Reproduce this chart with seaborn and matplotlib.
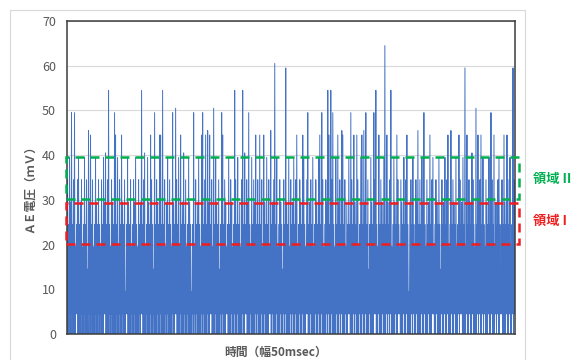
import numpy as np
import pandas as pd
import matplotlib
matplotlib.use("Agg")
import matplotlib.pyplot as plt
import matplotlib.transforms as mtransforms
from matplotlib.patches import Rectangle
import seaborn as sns

# Peak AE voltage (mV) in each 50 ms window
peak_mv = [
    34.5, 24.5, 39.5, 29.5, 49.5, 24.5, 34.5, 49.5, 19.5, 24.5, 34.5, 39.5, 24.5, 29.5, 34.5, 19.5,
    24.5, 39.5, 24.5, 34.5, 14.5, 45.5, 29.5, 44.5, 24.5, 34.5, 19.5, 24.5, 39.5, 29.5, 24.5, 34.5,
    24.5, 19.5, 34.5, 24.5, 39.5, 29.5, 40.5, 24.5, 34.5, 54.5, 24.5, 19.5, 34.5, 29.5, 24.5, 49.5,
    44.5, 24.5, 39.5, 19.5, 34.5, 24.5, 44.5, 29.5, 24.5, 34.5, 9.5, 24.5, 39.5, 29.5, 24.5, 34.5,
    19.5, 24.5, 34.5, 29.5, 39.5, 24.5, 19.5, 34.5, 24.5, 29.5, 54.5, 24.5, 34.5, 40.5, 19.5, 24.5,
    39.5, 29.5, 24.5, 44.5, 34.5, 24.5, 14.5, 49.5, 24.5, 34.5, 29.5, 24.5, 44.5, 44.5, 24.5, 54.5,
    24.5, 34.5, 19.5, 29.5, 39.5, 24.5, 34.5, 24.5, 19.5, 49.5, 29.5, 24.5, 50.5, 34.5, 24.5, 39.5,
    19.5, 44.5, 24.5, 29.5, 40.5, 24.5, 34.5, 19.5, 24.5, 39.5, 29.5, 24.5, 9.5, 24.5, 49.5, 19.5,
    34.5, 24.5, 29.5, 39.5, 24.5, 19.5, 44.5, 49.5, 24.5, 34.5, 44.5, 24.5, 45.5, 29.5, 44.5, 24.5,
    34.5, 19.5, 50.5, 24.5, 39.5, 29.5, 24.5, 34.5, 14.5, 24.5, 49.5, 44.5, 24.5, 34.5, 29.5, 19.5,
    24.5, 39.5, 24.5, 34.5, 29.5, 19.5, 24.5, 54.5, 34.5, 24.5, 39.5, 24.5, 29.5, 19.5, 34.5, 54.5,
    24.5, 40.5, 24.5, 34.5, 29.5, 49.5, 24.5, 19.5, 39.5, 24.5, 34.5, 29.5, 44.5, 24.5, 34.5, 24.5,
    44.5, 24.5, 34.5, 19.5, 44.5, 29.5, 24.5, 39.5, 24.5, 34.5, 19.5, 45.5, 24.5, 29.5, 34.5, 60.5,
    24.5, 39.5, 19.5, 24.5, 34.5, 29.5, 24.5, 14.5, 34.5, 24.5, 59.5, 29.5, 24.5, 39.5, 19.5, 34.5,
    24.5, 29.5, 39.5, 24.5, 34.5, 44.5, 19.5, 24.5, 34.5, 29.5, 24.5, 44.5, 39.5, 24.5, 19.5, 34.5,
    49.5, 24.5, 29.5, 34.5, 24.5, 39.5, 19.5, 24.5, 34.5, 29.5, 24.5, 39.5, 44.5, 24.5, 49.5, 34.5,
    19.5, 24.5, 34.5, 29.5, 54.5, 44.5, 24.5, 54.5, 34.5, 49.5, 24.5, 19.5, 39.5, 24.5, 44.5, 29.5,
    34.5, 24.5, 45.5, 44.5, 24.5, 34.5, 19.5, 29.5, 24.5, 39.5, 24.5, 49.5, 34.5, 24.5, 44.5, 29.5,
    24.5, 44.5, 34.5, 19.5, 24.5, 39.5, 44.5, 24.5, 45.5, 29.5, 49.5, 24.5, 34.5, 14.5, 24.5, 39.5,
    29.5, 24.5, 49.5, 34.5, 54.5, 24.5, 19.5, 44.5, 24.5, 34.5, 29.5, 24.5, 39.5, 64.5, 24.5, 44.5,
    29.5, 24.5, 34.5, 54.5, 19.5, 24.5, 39.5, 29.5, 24.5, 44.5, 34.5, 24.5, 19.5, 34.5, 29.5, 24.5,
    39.5, 24.5, 34.5, 44.5, 24.5, 9.5, 29.5, 34.5, 24.5, 39.5, 24.5, 19.5, 34.5, 29.5, 45.5, 24.5,
    34.5, 24.5, 39.5, 29.5, 49.5, 24.5, 19.5, 34.5, 24.5, 29.5, 44.5, 24.5, 34.5, 39.5, 19.5, 24.5,
    34.5, 29.5, 24.5, 39.5, 24.5, 14.5, 34.5, 24.5, 29.5, 39.5, 24.5, 34.5, 44.5, 19.5, 24.5, 45.5,
    24.5, 34.5, 29.5, 24.5, 39.5, 19.5, 24.5, 44.5, 34.5, 24.5, 29.5, 39.5, 24.5, 59.5, 19.5, 44.5,
    24.5, 34.5, 29.5, 24.5, 40.5, 34.5, 24.5, 19.5, 50.5, 24.5, 44.5, 29.5, 34.5, 44.5, 24.5, 39.5,
    24.5, 19.5, 34.5, 29.5, 24.5, 39.5, 24.5, 49.5, 34.5, 24.5, 44.5, 19.5, 29.5, 24.5, 34.5, 39.5,
    24.5, 14.5, 34.5, 24.5, 44.5, 29.5, 24.5, 44.5, 34.5, 24.5, 39.5, 19.5, 24.5, 59.5, 34.5, 29.5,
]

# Minimum AE voltage (mV) in each 50 ms window
floor_mv = [
    0, 0, 4.5, 0, 0, 4.5, 0, 0, 0, 4.5, 4.5, 0, 0, 0, 4.5, 0,
    0, 4.5, 0, 0, 0, 0, 4.5, 0, 4.5, 0, 0, 0, 4.5, 0, 0, 4.5,
    0, 4.5, 0, 0, 0, 4.5, 4.5, 0, 0, 0, 4.5, 0, 4.5, 0, 0, 0,
    0, 4.5, 0, 0, 4.5, 0, 0, 4.5, 0, 0, 0, 4.5, 4.5, 0, 0, 0,
    4.5, 0, 0, 4.5, 0, 0, 0, 0, 4.5, 0, 4.5, 4.5, 0, 0, 0, 4.5,
    0, 0, 0, 4.5, 0, 0, 4.5, 0, 0, 0, 4.5, 0, 0, 4.5, 0, 0,
    0, 0, 4.5, 0, 4.5, 0, 0, 0, 0, 4.5, 0, 0, 4.5, 4.5, 0, 0,
    0, 4.5, 0, 0, 0, 4.5, 0, 0, 4.5, 0, 0, 0, 0, 4.5, 0, 4.5,
    0, 4.5, 0, 0, 0, 0, 4.5, 0, 4.5, 0, 0, 0, 4.5, 0, 0, 4.5,
    4.5, 0, 0, 0, 4.5, 0, 0, 0, 0, 4.5, 0, 4.5, 0, 0, 0, 4.5,
    4.5, 0, 0, 0, 4.5, 0, 0, 4.5, 0, 0, 4.5, 0, 0, 0, 0, 4.5,
    0, 0, 4.5, 4.5, 0, 0, 0, 4.5, 0, 0, 0, 0, 4.5, 0, 4.5, 0,
    0, 0, 4.5, 0, 0, 4.5, 0, 0, 0, 0, 4.5, 4.5, 0, 4.5, 0, 0,
    0, 4.5, 0, 0, 0, 4.5, 0, 0, 4.5, 0, 4.5, 0, 0, 0, 0, 4.5,
    0, 4.5, 0, 0, 4.5, 0, 0, 0, 4.5, 0, 0, 4.5, 0, 0, 0, 4.5,
    4.5, 0, 0, 4.5, 0, 0, 0, 0, 4.5, 0, 0, 4.5, 0, 0, 4.5, 0,
    0, 0, 0, 4.5, 0, 4.5, 0, 0, 4.5, 0, 0, 0, 0, 4.5, 0, 0,
    4.5, 0, 4.5, 0, 0, 0, 4.5, 0, 0, 4.5, 4.5, 0, 0, 0, 4.5, 0,
    4.5, 0, 0, 0, 4.5, 0, 0, 4.5, 0, 0, 4.5, 0, 0, 0, 4.5, 0,
    0, 0, 0, 4.5, 4.5, 0, 0, 4.5, 0, 0, 0, 4.5, 0, 0, 0, 4.5,
    0, 4.5, 0, 4.5, 0, 0, 0, 0, 4.5, 0, 0, 4.5, 4.5, 0, 0, 0,
    4.5, 0, 0, 4.5, 0, 0, 0, 0, 4.5, 0, 4.5, 0, 0, 4.5, 0, 0,
    0, 0, 4.5, 0, 0, 4.5, 0, 0, 0, 4.5, 0, 0, 0, 4.5, 4.5, 0,
    0, 4.5, 0, 0, 0, 0, 4.5, 0, 0, 4.5, 0, 0, 4.5, 0, 0, 0,
    4.5, 0, 0, 4.5, 0, 0, 0, 4.5, 0, 4.5, 4.5, 0, 0, 0, 0, 4.5,
    0, 0, 4.5, 0, 0, 4.5, 0, 0, 0, 0, 4.5, 0, 4.5, 0, 0, 4.5,
    0, 4.5, 0, 0, 0, 4.5, 0, 0, 4.5, 0, 0, 0, 4.5, 0, 4.5, 0,
    0, 4.5, 4.5, 0, 0, 0, 0, 4.5, 0, 0, 4.5, 0, 0, 4.5, 0, 4.5,
]

y_ticks = [0, 10, 20, 30, 40, 50, 60, 70]
y_label = "ＡＥ電圧（ｍＶ）"
x_label = "時間（幅50msec）"
region_names = ["領域 II", "領域 I"]
region_ii_mv = (30.2, 39.5)   # lower / upper bound of region II
region_i_mv = (20.2, 29.4)    # lower / upper bound of region I

# Interleave window minimum and maximum into one continuous trace
n = min(len(peak_mv), len(floor_mv))
t = np.empty(2 * n)
t[0::2] = np.arange(n)
t[1::2] = np.arange(n) + 0.5
mv = np.empty(2 * n)
mv[0::2] = floor_mv[:n]
mv[1::2] = peak_mv[:n]
df = pd.DataFrame({"t": t, "mv": mv})

sns.set_theme(style="white")
plt.rcParams["font.family"] = ["Noto Sans CJK JP", "DejaVu Sans"]

W, H = 581, 360
fig = plt.figure(figsize=(W / 100, H / 100), dpi=100)
fig.patch.set_facecolor("white")

# light outer chart frame
fig.patches.append(Rectangle((10 / W, -0.05), 515 / W, 1.05 - 10 / H,
                             transform=fig.transFigure, fill=False,
                             edgecolor="#D9D9D9", linewidth=0.8))

ax = fig.add_axes([67 / W, 1 - 334 / H, 448 / W, 313 / H])
ax.yaxis.grid(True, color="#D9D9D9", linewidth=0.8)
ax.set_axisbelow(True)

sns.lineplot(data=df, x="t", y="mv", ax=ax, color="#4472C4",
             linewidth=0.7, estimator=None, sort=False, legend=False)

ax.set_xlim(t.min(), t.max())
ax.set_ylim(y_ticks[0], y_ticks[-1])
ax.set_yticks(y_ticks)
ax.set_xticks([])
ax.set_xlabel("")
ax.set_ylabel("")
ax.tick_params(axis="y", length=0, pad=8, labelsize=9, labelcolor="#595959")
for sp in ax.spines.values():
    sp.set_visible(True)
    sp.set_color("#3C3C3C")
    sp.set_linewidth(1.1)

# dashed boxes marking the two regions
blend = mtransforms.blended_transform_factory(ax.transAxes, ax.transData)
dash = (0, (3.6, 2.4))
for (lo, hi), col in [(region_ii_mv, "#00B050"), (region_i_mv, "#F01E1E")]:
    ax.add_patch(Rectangle((-0.002, lo), 1.01, hi - lo, transform=blend,
                           fill=False, edgecolor=col, linewidth=1.8,
                           linestyle=dash, clip_on=False, zorder=5))

fig.text(533 / W, 1 - 179 / H, region_names[0], color="#00B050",
         fontsize=9.5, fontweight="bold", ha="left", va="center")
fig.text(533 / W, 1 - 221 / H, region_names[1], color="#F01E1E",
         fontsize=9.5, fontweight="bold", ha="left", va="center")

fig.text(30 / W, 1 - 186 / H, y_label, rotation=90, color="#595959",
         fontsize=8.5, fontweight="bold", ha="center", va="center")
fig.text(276 / W, 1 - 352 / H, x_label, color="#595959",
         fontsize=8.5, fontweight="bold", ha="center", va="center")

fig.savefig("out.png", dpi=100, facecolor="white")
